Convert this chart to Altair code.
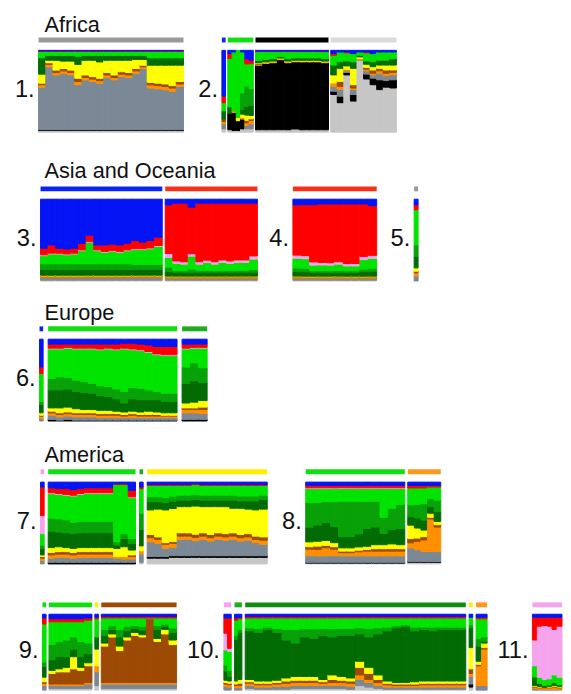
import altair as alt
import pandas as pd

# ---------------- cluster palette (bottom -> top stacking order) ----------------
ORDER = ['lgy', 'blk', 'gry', 'org', 'brn', 'yel', 'dgr', 'mgr', 'lim', 'pnk', 'red', 'blu']
COLORS = ['#c6c6c6', '#000000', '#7b8896', '#ff8f00', '#9c4a04', '#ffff00',
          '#036b03', '#08a208', '#00e400', '#f4a4ec', '#ff0000', '#0414f5']
BAR_COLORS = {'gry': '#9a9a9a', 'lgy': '#dadada', 'blk': '#000000', 'blu': '#0a24f0',
              'red': '#f4321a', 'lim': '#10e010', 'mgr': '#20ac20', 'dgr': '#128a12',
              'pnk': '#f4a4ec', 'yel': '#ffee00', 'org': '#f99a1c', 'brn': '#9c4a04'}

# ---------------- data: per group, cluster proportions (%) per column ----------------
# Panel 1
P1_A = dict(
    lgy=[2, 2, 2, 2, 2, 2, 2, 2, 2, 2, 2, 2, 2, 2, 2, 2, 2, 2, 2, 2],
    blk=[1, 1, 1, 1, 1, 1, 1, 1, 1, 1, 1, 1, 1, 1, 1, 1, 1, 1, 1, 1],
    gry=[52, 77, 67, 69, 67, 55, 61, 59, 57, 64, 61, 65, 64, 69, 75, 51, 50, 49, 47, 53],
    org=[3, 3, 3, 3, 3, 4, 3, 3, 3, 3, 3, 3, 3, 3, 2, 4, 4, 4, 4, 3],
    brn=[2, 2, 3, 3, 3, 4, 3, 3, 3, 3, 3, 3, 3, 3, 2, 3, 3, 3, 3, 3],
    yel=[11, 3, 12, 9, 11, 17, 18, 20, 20, 15, 18, 14, 15, 11, 7, 21, 22, 23, 25, 20],
    dgr=[20, 6, 6, 7, 7, 10, 6, 6, 8, 6, 6, 6, 6, 5, 5, 9, 9, 9, 9, 9],
    lim=[8, 5, 5, 5, 5, 6, 5, 5, 5, 5, 5, 5, 5, 5, 5, 8, 8, 8, 8, 8],
    red=[0.5, 0.5, 0.5, 0.5, 0.5, 0.5, 0.5, 0.5, 0.5, 0.5, 0.5, 0.5, 0.5, 0.5, 0.5, 0.5, 0.5, 0.5, 0.5, 0.5],
    blu=[0.7, 0.7, 0.7, 0.7, 0.7, 0.7, 0.7, 0.7, 0.7, 0.7, 0.7, 0.7, 0.7, 0.7, 0.7, 0.7, 0.7, 0.7, 0.7, 0.7],
)
# Panel 2
P2_A = dict(lgy=[4], gry=[6], org=[3], brn=[3], dgr=[10], lim=[10], red=[8], blu=[56])
P2_B = dict(
    lgy=[3, 2, 2, 4, 4, 4], blk=[20, 22, 12, 12, 0, 0], gry=[0, 0, 0, 0, 4, 6],
    org=[0, 2, 0, 2, 3, 4], brn=[0, 0, 0, 0, 3, 2], yel=[0, 0, 4, 4, 6, 4],
    dgr=[8, 0, 0, 6, 10, 12], mgr=[0, 0, 0, 20, 24, 20], lim=[59, 72, 82, 50, 26, 30],
    red=[6, 0, 0, 0, 6, 4], blu=[4, 2, 0, 2, 10, 12],
)
P2_C = dict(
    lgy=[3, 3, 3, 3, 3, 4, 3, 3, 3, 3],
    blk=[80, 83, 84, 86, 84, 85, 85, 85, 85, 84],
    brn=[1, 0, 0, 0, 0, 0, 0, 0, 0, 0],
    org=[1, 1, 1, 1, 1, 1, 1, 1, 1, 1],
    yel=[1, 1, 1, 1, 1, 1, 1, 1, 1, 1],
    dgr=[3, 3, 3, 2, 3, 3, 3, 3, 3, 3],
    lim=[11, 10, 9, 6, 9, 8, 8, 8, 8, 9],
    red=[0.5, 0.5, 0.5, 0.5, 0.5, 0.5, 0.5, 0.5, 0.5, 0.5],
    blu=[1, 1, 1, 1, 1, 1, 1, 1, 1, 1],
)
P2_D = dict(
    lgy=[46, 36, 70, 38, 88, 65, 58, 52, 55, 54],
    blk=[4, 8, 3, 8, 0, 6, 8, 12, 8, 10],
    gry=[6, 8, 2, 6, 1, 4, 4, 8, 6, 6],
    org=[4, 4, 2, 2, 1, 2, 2, 3, 3, 3],
    brn=[0, 6, 0, 4, 0, 2, 4, 3, 4, 3],
    yel=[10, 16, 4, 20, 2, 4, 4, 4, 6, 6],
    dgr=[12, 8, 6, 8, 2, 4, 6, 6, 6, 8],
    lim=[12, 12, 10, 10, 4, 10, 10, 10, 10, 8],
    red=[2, 0, 1, 0, 0, 1, 0, 0, 0, 0],
    blu=[4, 2, 2, 4, 2, 2, 4, 2, 2, 2],
)
# Panel 3
P3_A = dict(
    lgy=[1, 1, 1, 1, 1, 1, 1, 1, 1, 1, 1, 1, 1, 1, 1, 1],
    gry=[3, 3, 3, 3, 3, 3, 3, 3, 3, 3, 3, 3, 3, 3, 3, 3],
    org=[1, 1, 1, 1, 1, 1, 1, 1, 1, 1, 1, 1, 1, 1, 1, 1],
    brn=[1, 1, 1, 1, 1, 1, 1, 1, 1, 1, 1, 1, 1, 1, 1, 1],
    yel=[1, 1, 1, 1, 1, 1, 1, 1, 1, 1, 1, 1, 1, 1, 1, 1],
    dgr=[7, 7, 7, 7, 7, 7, 7, 7, 7, 7, 7, 7, 7, 7, 7, 7],
    mgr=[7, 7, 7, 7, 7, 7, 7, 7, 7, 7, 7, 7, 6, 6, 6, 6],
    lim=[10, 12, 12, 11, 12, 16, 26, 16, 14, 15, 14, 16, 18, 18, 19, 22],
    pnk=[1, 1, 1, 1, 1, 1, 1, 1, 1, 1, 1, 1, 1, 1, 1, 1],
    red=[8, 10, 6, 6, 6, 8, 8, 6, 8, 8, 8, 8, 10, 8, 9, 10],
    blu=[60, 56, 60, 61, 60, 54, 44, 56, 56, 55, 56, 54, 50, 52, 50, 46],
)
P3_B = dict(
    lgy=[1, 1, 1, 1, 1, 1, 1, 1, 1, 1, 1, 1],
    gry=[2, 2, 2, 2, 2, 2, 2, 2, 2, 2, 2, 2],
    org=[1, 1, 1, 1, 1, 1, 1, 1, 1, 1, 1, 1],
    brn=[1, 1, 1, 1, 1, 1, 1, 1, 1, 1, 1, 1],
    yel=[1, 1, 1, 1, 1, 1, 1, 1, 1, 1, 1, 1],
    dgr=[6, 5, 5, 5, 5, 5, 5, 5, 5, 5, 5, 5],
    mgr=[5, 2, 2, 4, 2, 2, 2, 2, 2, 2, 2, 3],
    lim=[12, 9, 8, 16, 8, 10, 8, 10, 9, 10, 10, 13],
    pnk=[5, 3, 3, 3, 3, 3, 3, 3, 3, 3, 3, 4],
    red=[60, 72, 73, 58, 73, 71, 73, 70, 72, 70, 70, 65],
    blu=[7, 5, 5, 10, 5, 5, 5, 5, 5, 5, 5, 5],
)
# Panel 4
P4_A = dict(
    lgy=[1, 1, 1, 1, 1, 1, 1, 1, 1, 1],
    gry=[2, 2, 2, 2, 2, 2, 2, 2, 2, 2],
    org=[1, 1, 1, 1, 1, 1, 1, 1, 1, 1],
    brn=[1, 1, 1, 1, 1, 1, 1, 1, 1, 1],
    yel=[1, 1, 1, 1, 1, 1, 1, 1, 1, 1],
    dgr=[6, 6, 5, 5, 5, 5, 5, 5, 6, 6],
    mgr=[4, 4, 2, 2, 2, 2, 2, 2, 3, 4],
    lim=[12, 12, 7, 7, 7, 8, 6, 6, 12, 12],
    pnk=[4, 4, 4, 3, 3, 3, 3, 3, 4, 4],
    red=[62, 64, 72, 73, 74, 72, 75, 75, 66, 62],
    blu=[7, 7, 7, 6, 6, 6, 6, 6, 6, 8],
)
# Panel 5
P5_A = dict(gry=[6], org=[4], brn=[2], yel=[4], dgr=[14], mgr=[14], lim=[43], red=[6], blu=[7])
# Panel 6
P6_A = dict(gry=[3], org=[3], brn=[1], yel=[3], dgr=[10], mgr=[4], lim=[34], red=[8], blu=[34])
P6_B = dict(
    blk=[2, 1, 2, 1, 1, 1, 1, 1, 1, 1, 1, 1, 1, 1, 1, 1],
    gry=[5, 4, 4, 4, 4, 4, 3, 3, 3, 3, 3, 3, 3, 3, 3, 3],
    org=[3, 3, 3, 3, 3, 3, 3, 3, 3, 2, 3, 2, 2, 2, 2, 2],
    brn=[2, 2, 2, 2, 2, 2, 2, 2, 2, 2, 2, 2, 2, 2, 1, 1],
    yel=[4, 6, 6, 5, 4, 4, 4, 4, 3, 3, 3, 3, 4, 3, 3, 3],
    dgr=[22, 22, 22, 21, 21, 20, 18, 17, 15, 11, 15, 15, 14, 15, 14, 14],
    mgr=[14, 16, 14, 14, 13, 12, 12, 12, 12, 14, 14, 14, 12, 10, 10, 10],
    lim=[36, 34, 36, 38, 40, 42, 44, 46, 48, 52, 46, 46, 46, 45, 46, 46],
    pnk=[1, 1, 1, 1, 1, 1, 1, 1, 1, 1, 1, 1, 1, 1, 1, 1],
    red=[5, 5, 4, 5, 5, 5, 6, 5, 6, 6, 7, 7, 8, 9, 10, 10],
    blu=[6, 6, 6, 6, 6, 6, 6, 6, 6, 5, 5, 6, 7, 9, 9, 9],
)
P6_C = dict(
    blk=[2, 2, 2], gry=[8, 8, 7], org=[4, 4, 5], brn=[2, 2, 3], yel=[6, 7, 8],
    dgr=[24, 26, 22], mgr=[20, 22, 18], lim=[22, 18, 24], pnk=[1, 1, 1],
    red=[5, 4, 4], blu=[6, 6, 6],
)
# Panel 7
P7_A = dict(gry=[4], org=[3], brn=[2], yel=[2], dgr=[8], mgr=[4], lim=[14], pnk=[22], red=[35], blu=[6])
P7_B = dict(
    blk=[2, 2, 2, 2, 2, 2, 2, 2, 2, 2, 2, 2],
    gry=[5, 6, 6, 5, 6, 6, 6, 6, 6, 5, 4, 4],
    org=[4, 4, 4, 4, 4, 4, 4, 4, 4, 2, 3, 3],
    brn=[3, 3, 3, 3, 3, 3, 3, 3, 3, 0, 0, 2],
    yel=[6, 6, 5, 5, 5, 5, 5, 5, 5, 10, 12, 6],
    dgr=[20, 18, 18, 18, 18, 18, 18, 18, 18, 4, 10, 8],
    mgr=[16, 16, 16, 14, 14, 14, 14, 14, 14, 4, 6, 6],
    lim=[30, 30, 30, 32, 33, 34, 34, 34, 34, 70, 60, 50],
    pnk=[1, 1, 1, 1, 1, 1, 1, 1, 1, 0, 0, 1],
    red=[6, 6, 7, 7, 6, 6, 6, 6, 6, 1, 1, 8],
    blu=[7, 8, 8, 9, 8, 7, 7, 7, 7, 2, 2, 10],
)
P7_C = dict(lgy=[2], gry=[10], org=[4], yel=[6], dgr=[20], mgr=[20], lim=[30], red=[2], blu=[6])
P7_D = dict(
    lgy=[7, 7, 7, 8, 8, 8, 8, 8, 8, 8, 8, 8, 8, 8, 8, 8],
    blk=[2, 2, 2, 2, 2, 2, 2, 2, 2, 2, 2, 2, 2, 2, 2, 2],
    gry=[18, 16, 10, 10, 20, 20, 18, 20, 18, 20, 19, 20, 18, 19, 16, 14],
    org=[5, 5, 5, 5, 4, 4, 4, 4, 4, 4, 4, 4, 4, 4, 4, 5],
    brn=[4, 3, 2, 2, 4, 4, 4, 4, 4, 4, 4, 4, 4, 4, 4, 4],
    yel=[30, 34, 40, 40, 32, 32, 34, 32, 34, 32, 33, 30, 32, 30, 32, 34],
    dgr=[10, 9, 9, 9, 8, 8, 8, 8, 8, 8, 8, 10, 9, 10, 11, 12],
    mgr=[6, 6, 6, 6, 6, 6, 6, 6, 6, 6, 6, 6, 6, 6, 6, 5],
    lim=[14, 14, 15, 13, 12, 12, 12, 12, 12, 12, 12, 12, 13, 13, 13, 12],
    red=[1, 1, 1, 1, 1, 1, 1, 1, 1, 1, 1, 1, 1, 1, 1, 1],
    blu=[3, 3, 3, 3, 3, 3, 2, 3, 3, 3, 3, 3, 3, 3, 3, 3],
)
# Panel 8
P8_A = dict(
    lgy=[1, 1, 1, 1, 1, 1, 1, 1, 1, 1, 1, 1],
    blk=[1, 1, 1, 1, 1, 1, 1, 1, 1, 1, 1, 1],
    gry=[8, 8, 8, 8, 8, 8, 8, 8, 8, 8, 8, 8],
    org=[8, 8, 10, 8, 4, 4, 5, 6, 6, 6, 6, 6],
    brn=[3, 4, 3, 3, 2, 2, 2, 2, 3, 3, 3, 3],
    yel=[6, 6, 6, 5, 4, 4, 4, 4, 5, 5, 6, 5],
    dgr=[18, 20, 22, 20, 14, 14, 16, 22, 22, 14, 18, 20],
    mgr=[30, 28, 26, 30, 44, 44, 40, 34, 32, 20, 26, 30],
    lim=[17, 17, 16, 16, 16, 16, 16, 16, 16, 36, 25, 20],
    pnk=[1, 1, 1, 1, 1, 1, 1, 1, 1, 1, 1, 1],
    red=[3, 3, 3, 3, 3, 3, 3, 3, 3, 3, 3, 3],
    blu=[4, 4, 4, 4, 4, 4, 4, 4, 4, 4, 4, 4],
)
P8_B = dict(
    lgy=[2, 2, 2, 2, 2], blk=[1, 1, 1, 1, 1], gry=[16, 14, 12, 12, 12],
    org=[6, 10, 14, 40, 30], brn=[5, 4, 4, 2, 3], yel=[16, 12, 8, 5, 4],
    dgr=[10, 12, 12, 8, 12], mgr=[14, 16, 20, 10, 14], lim=[20, 20, 19, 14, 16],
    red=[3, 3, 3, 2, 2], blu=[4, 4, 4, 4, 4],
)
# Panel 9
P9_A = dict(gry=[6], org=[3], brn=[2], yel=[6], dgr=[14], mgr=[6], lim=[50], red=[8], blu=[5])
P9_B = dict(
    lgy=[2, 2, 2, 2, 2, 2], gry=[4, 4, 4, 4, 4, 6], org=[2, 2, 2, 2, 2, 2],
    brn=[14, 16, 16, 20, 18, 22], yel=[4, 4, 6, 16, 4, 4], dgr=[14, 16, 14, 10, 14, 12],
    mgr=[20, 20, 22, 16, 20, 14], lim=[30, 26, 24, 20, 26, 30],
    red=[4, 4, 4, 4, 4, 3], blu=[6, 6, 6, 6, 6, 5],
)
P9_C = dict(lgy=[6], gry=[18], org=[8], yel=[22], dgr=[16], lim=[24], red=[2], blu=[4])
P9_D = dict(
    lgy=[2, 2, 2, 2, 2, 2, 2, 2, 2, 2],
    gry=[6, 6, 6, 6, 6, 6, 6, 6, 6, 6],
    org=[2, 2, 2, 2, 2, 2, 2, 2, 2, 2],
    brn=[48, 60, 42, 56, 62, 60, 84, 54, 64, 50],
    yel=[4, 4, 6, 4, 4, 3, 0, 4, 6, 6],
    dgr=[10, 6, 12, 8, 5, 6, 0, 12, 4, 10],
    mgr=[8, 5, 10, 6, 4, 5, 0, 5, 3, 6],
    lim=[15, 10, 15, 11, 10, 11, 1, 10, 8, 13],
    red=[2, 2, 2, 2, 2, 2, 2, 2, 2, 2],
    blu=[3, 3, 3, 3, 3, 3, 3, 3, 3, 3],
)
# Panel 10
P10_A = dict(gry=[5, 4], org=[3, 3], brn=[2, 2], yel=[3, 3], dgr=[12, 6], mgr=[8, 8],
             lim=[20, 25], pnk=[22, 4], red=[20, 40], blu=[5, 5])
P10_B = dict(gry=[3, 3], org=[3, 3], brn=[2, 3], yel=[4, 5], dgr=[55, 62], mgr=[5, 4],
             lim=[20, 14], red=[3, 2], blu=[5, 4])
P10_C = dict(
    lgy=[2, 1, 1, 1, 1, 2, 2, 2, 2, 2, 2, 1, 6, 4, 2, 1, 1, 1, 1, 1, 1, 1, 1, 1],
    gry=[4, 3, 3, 4, 4, 4, 4, 4, 4, 4, 4, 4, 8, 6, 4, 3, 3, 3, 3, 3, 3, 3, 3, 3],
    org=[3, 3, 3, 3, 4, 4, 4, 4, 3, 4, 4, 4, 6, 4, 4, 3, 2, 2, 2, 3, 3, 3, 3, 3],
    brn=[2, 2, 2, 2, 3, 3, 3, 3, 2, 4, 3, 3, 10, 8, 4, 2, 2, 2, 2, 2, 2, 2, 2, 2],
    yel=[3, 3, 3, 3, 4, 5, 5, 5, 3, 6, 5, 4, 8, 8, 6, 3, 2, 2, 3, 3, 3, 3, 3, 3],
    dgr=[64, 64, 68, 63, 50, 44, 52, 50, 58, 50, 54, 56, 36, 40, 54, 66, 72, 74, 67, 68, 66, 68, 68, 68],
    mgr=[4, 5, 3, 5, 14, 18, 11, 13, 9, 11, 9, 9, 8, 11, 8, 5, 3, 2, 5, 3, 5, 3, 3, 3],
    lim=[13, 14, 12, 14, 15, 15, 14, 14, 14, 14, 14, 14, 13, 14, 13, 12, 10, 9, 12, 12, 12, 12, 12, 12],
    red=[2, 2, 2, 2, 2, 2, 2, 2, 2, 2, 2, 2, 2, 2, 2, 2, 2, 2, 2, 2, 2, 2, 2, 2],
    blu=[3, 3, 3, 3, 3, 3, 3, 3, 3, 3, 3, 3, 3, 3, 3, 3, 3, 3, 3, 3, 3, 3, 3, 3],
)
P10_D = dict(lgy=[4], blk=[4], gry=[10], org=[4], brn=[6], yel=[28], dgr=[26], mgr=[4], lim=[10], blu=[4])
P10_E = dict(gry=[6, 6], org=[26, 48], brn=[2, 2], yel=[4, 6], dgr=[20, 2], mgr=[10, 6],
             lim=[26, 24], red=[2, 2], blu=[4, 4])
# Panel 11
P11_A = dict(
    gry=[2, 1, 1, 1, 1, 1], org=[2, 2, 2, 2, 3, 2], brn=[1, 1, 1, 1, 1, 1],
    yel=[1, 1, 0, 1, 1, 1], dgr=[10, 4, 2, 2, 4, 2], mgr=[2, 0, 0, 0, 0, 0],
    lim=[14, 8, 8, 8, 10, 10], pnk=[34, 68, 72, 70, 60, 68],
    red=[30, 12, 11, 12, 16, 12], blu=[4, 4, 4, 4, 4, 4],
)

# groups: (label-bar colour key, number of individuals, proportions)
PANELS = {
    '1.': [('gry', 40, P1_A)],
    '2.': [('blu', 1, P2_A), ('lim', 7, P2_B), ('blk', 20, P2_C), ('lgy', 18, P2_D)],
    '3.': [('blu', 33, P3_A), ('red', 25, P3_B)],
    '4.': [('red', 23, P4_A)],
    '5.': [('gry', 1, P5_A)],
    '6.': [('blu', 1, P6_A), ('lim', 36, P6_B), ('mgr', 7, P6_C)],
    '7.': [('pnk', 1, P7_A), ('lim', 24, P7_B), ('mgr', 1, P7_C), ('yel', 33, P7_D)],
    '8.': [('lim', 27, P8_A), ('org', 9, P8_B)],
    '9.': [('lim', 1, P9_A), ('lim', 12, P9_B), ('yel', 1, P9_C), ('brn', 21, P9_D)],
    '10.': [('pnk', 2, P10_A), ('mgr', 2, P10_B), ('dgr', 60, P10_C), ('yel', 1, P10_D), ('org', 3, P10_E)],
    '11.': [('pnk', 8, P11_A)],
}
SECTIONS = ['Africa', 'Asia and Oceania', 'Europe', 'America']

# ---------------- layout / style ----------------
FONT = 'Liberation Sans'
CSCALE = alt.Scale(domain=ORDER, range=COLORS)


def panel_chart(key, width, gap_u, bar_h=5, gap_h=7, plot_h=83):
    recs, bars = [], []
    start = 0.0
    for gi, (bar_key, n_ind, cols) in enumerate(PANELS[key]):
        n = len(next(iter(cols.values())))
        for i in range(n):
            x0 = start + i * n_ind / n
            x1 = start + (i + 1) * n_ind / n
            for k in ORDER:
                if k in cols and cols[k][i] > 0:
                    recs.append({'col': f'{gi}-{i}', 'x0': x0, 'x1': x1, 'cl': k,
                                 'ord': ORDER.index(k), 'v': cols[k][i]})
        bars.append({'x0': start, 'x1': start + n_ind, 'c': BAR_COLORS[bar_key]})
        start += n_ind + gap_u
    total = start - gap_u
    xs = alt.Scale(domain=[0, total], nice=False, zero=False)
    top = alt.Chart(pd.DataFrame(bars)).mark_rect().encode(
        x=alt.X('x0:Q', scale=xs, axis=None), x2='x1',
        y=alt.value(0), y2=alt.value(bar_h),
        fill=alt.Fill('c:N', scale=None),
    ).properties(width=width, height=bar_h)
    plot = alt.Chart(pd.DataFrame(recs)).transform_stack(
        stack='v', groupby=['col'], as_=['y0', 'y1'], offset='normalize',
        sort=[alt.SortField('ord', order='ascending')],
    ).mark_rect(strokeWidth=1.0).encode(
        x=alt.X('x0:Q', scale=xs, axis=None), x2='x1',
        y=alt.Y('y0:Q', scale=alt.Scale(domain=[0, 1], nice=False, zero=False), axis=None),
        y2='y1',
        color=alt.Color('cl:N', scale=CSCALE, legend=None),
        stroke=alt.Stroke('cl:N', scale=CSCALE, legend=None),
    ).properties(width=width, height=plot_h)
    return alt.vconcat(top, plot, spacing=gap_h)


def text_chart(txt, width, height, x, y, size, align='right', baseline='middle'):
    return alt.Chart(pd.DataFrame({'t': [txt]})).mark_text(
        align=align, baseline=baseline, fontSize=size, font=FONT, color='#111111'
    ).encode(text='t:N', x=alt.value(x), y=alt.value(y)).properties(width=width, height=height)


def num(label, width, height=95, cy=53.5):
    return text_chart(label, width, height, width - 3, cy, 24)


def title(txt, height, base):
    return text_chart(txt, 400, height, 37, base, 22, align='left', baseline='alphabetic')


row1 = alt.hconcat(num('1.', 30), panel_chart('1.', 147, 0.8),
                   num('2.', 37), panel_chart('2.', 177, 0.6), spacing=0)
row2 = alt.hconcat(num('3.', 32), panel_chart('3.', 220, 0.8),
                   num('4.', 34), panel_chart('4.', 85, 0.8),
                   num('5.', 36), panel_chart('5.', 4, 0.8), spacing=0)
row3 = alt.hconcat(num('6.', 31), panel_chart('6.', 170, 1.4), spacing=0)
row4 = alt.hconcat(num('7.', 32), panel_chart('7.', 230, 1.1),
                   num('8.', 37), panel_chart('8.', 137, 0.8), spacing=0)
row5 = alt.hconcat(num('9.', 34, 88, 49.5), panel_chart('9.', 136, 0.8, gap_h=6, plot_h=77),
                   num('10.', 46, 88, 49.5), panel_chart('10.', 267, 0.9, gap_h=6, plot_h=77),
                   num('11.', 44, 88, 49.5), panel_chart('11.', 30, 0.8, gap_h=6, plot_h=77),
                   spacing=0)

chart = alt.vconcat(
    title(SECTIONS[0], 25, 19), row1,
    title(SECTIONS[1], 54, 45), row2,
    title(SECTIONS[2], 45, 39), row3,
    title(SECTIONS[3], 48, 41), row4,
    title('', 38, 20), row5,
    spacing=0,
).properties(padding=0, background='white').configure_view(stroke=None)

chart.save('out.html', embed_options={'renderer': 'svg', 'actions': False})
